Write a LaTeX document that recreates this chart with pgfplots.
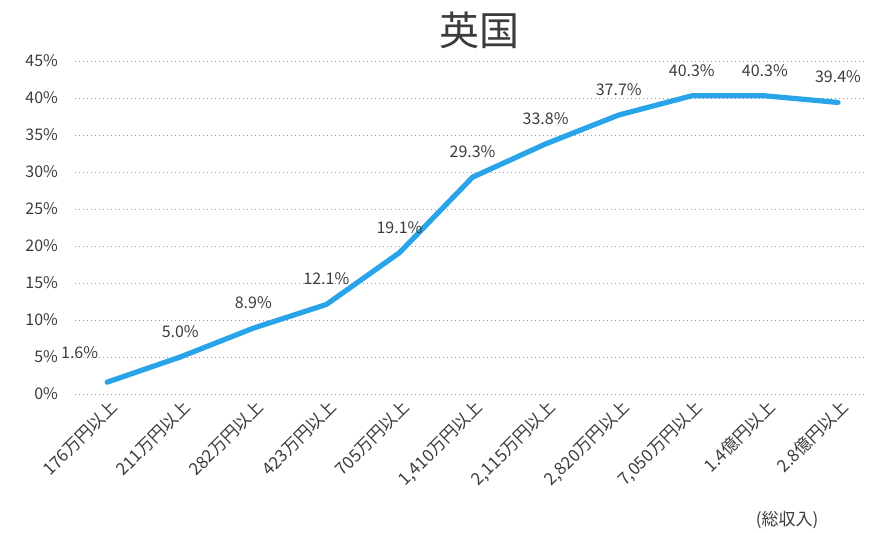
\documentclass[border=0pt]{standalone}
\usepackage{fontspec}
\setmainfont{Noto Sans CJK JP}
\usepackage{pgfplots}
\pgfplotsset{compat=1.18}
\definecolor{lineblue}{RGB}{42,164,232}
\definecolor{labelgray}{RGB}{60,60,60}
\begin{document}
\begin{tikzpicture}
\begin{axis}[
    scale only axis,
    width=395pt, height=166.5pt,
    at={(0,0)}, anchor=south west,
    xmin=-0.44, xmax=10.37,
    ymin=0, ymax=45,
    xtick={0,...,10},
    xticklabels={176万円以上,211万円以上,282万円以上,423万円以上,705万円以上,{1,410万円以上},{2,115万円以上},{2,820万円以上},{7,050万円以上},1.4億円以上,2.8億円以上},
    ytick={0,5,...,45},
    yticklabel={\pgfmathprintnumber{\tick}\%},
    /pgf/number format/assume math mode=true,
    axis line style={draw=none},
    major tick length=0pt,
    ymajorgrids,
    grid style={gray!80, line width=0.5pt, dash pattern=on 0.6pt off 1.4pt},
    tick label style={font=\fontsize{8}{10}\selectfont, text=labelgray},
    xticklabel style={font=\fontsize{8.5}{10}\selectfont, rotate=45, anchor=north east, inner sep=1pt, xshift=0pt, yshift=-1pt},
    yticklabel style={xshift=-5pt},
    clip=false,
    nodes near coords={\pgfmathprintnumber[fixed,fixed zerofill,precision=1]{\pgfplotspointmeta}\%},
    every node near coord/.append style={font=\fontsize{8}{10}\selectfont, text=labelgray, anchor=south, yshift=5pt},
]
\addplot[color=lineblue, line width=2.6pt, line join=round, line cap=round, mark=none]
  coordinates {(1,5.0) (2,8.9) (3,12.1) (4,19.1) (5,29.3) (6,33.8) (7,37.7) (8,40.3) (9,40.3) (10,39.4)};
\addplot[color=lineblue, line width=2.6pt, line cap=round, mark=none, nodes near coords=\empty]
  coordinates {(0,1.6) (1,5.0)};
\addplot[draw=none, mark=none, every node near coord/.append style={anchor=south east, xshift=-1pt, yshift=3pt}]
  coordinates {(0,1.6)};
\end{axis}
\node[font=\fontsize{20}{22}\selectfont, text=labelgray] at (202pt,182pt) {英国};
\node[font=\fontsize{8.5}{10}\selectfont, text=labelgray] at (356pt,-63pt) {(総収入)};
\pgfresetboundingbox
\path (-37.5pt,-69pt) rectangle (399pt,197pt);
\end{tikzpicture}
\end{document}
